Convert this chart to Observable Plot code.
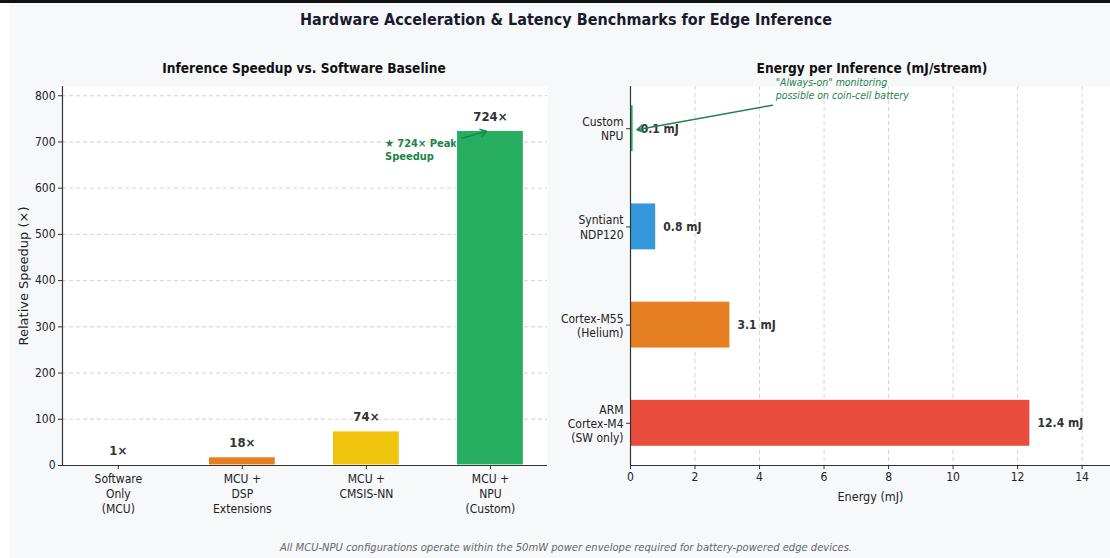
<!DOCTYPE html>
<html>
<head>
<meta charset="utf-8">
<script src="https://cdn.jsdelivr.net/npm/d3@7"></script>
<script src="https://cdn.jsdelivr.net/npm/@observablehq/plot@0.6"></script>
<style>
  body { margin:0; background:#fff; }
  #wrap { position:relative; width:1110px; height:558px; overflow:hidden; background:#fff; font-family:"DejaVu Sans Condensed","DejaVu Sans",sans-serif; }
  .abs { position:absolute; }
  .title { font-weight:bold; font-size:16px; color:#1a1a2e; white-space:nowrap; transform:translateX(-50%); }
  .sub { font-weight:bold; font-size:13.6px; color:#111; white-space:nowrap; transform:translateX(-50%); }
  .cap { font-style:italic; font-size:11.1px; color:#666; white-space:nowrap; transform:translateX(-50%); }
</style>
</head>
<body>
<div id="wrap">
  <div class="abs" style="left:0;top:0;width:1110px;height:3px;background:#111"></div>
  <div class="abs" style="left:10px;top:3px;width:1100px;height:555px;background:#f7f8fa"></div>
  <div class="abs title" style="left:566px;top:10px">Hardware Acceleration &amp; Latency Benchmarks for Edge Inference</div>
  <div class="abs sub" style="left:304px;top:60px">Inference Speedup vs. Software Baseline</div>
  <div class="abs sub" style="left:872px;top:60px">Energy per Inference (mJ/stream)</div>
  <div class="abs" id="left" style="left:0;top:50px"></div>
  <div class="abs" id="right" style="left:560px;top:50px"></div>
  <div class="abs cap" style="left:566px;top:541px">All MCU-NPU configurations operate within the 50mW power envelope required for battery-powered edge devices.</div>
</div>
<script>
// ---- Left chart data ----
const speedCats = ["Software\nOnly\n(MCU)", "MCU +\nDSP\nExtensions", "MCU +\nCMSIS-NN", "MCU +\nNPU\n(Custom)"];
const speedVals = [1, 18, 74, 724];
const speedColors = ["#95a5a6", "#e67e22", "#f1c40f", "#27ae60"];
const speedTicks = [0, 100, 200, 300, 400, 500, 600, 700, 800];
const peakNote = [{x: 2.15, y: 684, text: "★ 724× Peak\nSpeedup"}];
const peakArrow = [{x1: 2.77, y1: 708, x2: 2.97, y2: 723}];

// ---- Right chart data ----
const energyCats = ["ARM\nCortex-M4\n(SW only)", "Cortex-M55\n(Helium)", "Syntiant\nNDP120", "Custom\nNPU"];
const energyVals = [12.4, 3.1, 0.8, 0.1];
const energyColors = ["#e74c3c", "#e67e22", "#3498db", "#27ae60"];
const energyTicks = [0, 2, 4, 6, 8, 10, 12, 14];
const alwaysNote = [{x: 4.5, y: 3.41, text: "\"Always-on\" monitoring\npossible on coin-cell battery"}];
const alwaysArrow = [{x1: 4.4, y1: 3.24, x2: 0.2, y2: 2.99}];

const font = "'DejaVu Sans Condensed','DejaVu Sans',sans-serif";
const grid = {stroke: "#c8c8c8", strokeOpacity: 1, strokeWidth: 0.8, strokeDasharray: "4,3"};
const spine = "#333";

const speedData = speedCats.map((c, i) => ({i, c, v: speedVals[i], col: speedColors[i]}));
const energyData = energyCats.map((c, i) => ({i, c, v: energyVals[i], col: energyColors[i]}));

const left = Plot.plot({
  width: 555, height: 480,
  marginLeft: 62, marginRight: 8, marginTop: 36, marginBottom: 65,
  style: {background: "transparent", fontFamily: font, color: "#222"},
  x: {type: "linear", domain: [-0.45, 3.46], axis: null},
  y: {domain: [0, 820], axis: null},
  color: {type: "identity"},
  marks: [
    Plot.frame({fill: "white", stroke: null}),
    Plot.gridY(speedTicks.slice(1), grid),
    Plot.text(peakNote, {x: "x", y: "y", text: "text", textAnchor: "start", lineAnchor: "middle", fontSize: 11, fontWeight: "bold", fill: "#1e8449", lineHeight: 1.15}),
    Plot.rectY(speedData, {x1: d => d.i - 0.27, x2: d => d.i + 0.27, y1: 0, y2: "v", fill: "col", stroke: "white", strokeWidth: 1.2}),
    Plot.text(speedData, {x: "i", y: "v", text: d => `${d.v}×`, dy: -14, fontSize: 13, fontWeight: "bold", fill: "#333"}),
    Plot.arrow(peakArrow, {x1: "x1", y1: "y1", x2: "x2", y2: "y2", stroke: "#1e8449", strokeWidth: 1.5, headLength: 7}),
    Plot.ruleX([-0.45], {stroke: spine, strokeWidth: 1.2}),
    Plot.ruleY([0], {stroke: spine, strokeWidth: 1.2}),
    Plot.axisY({ticks: speedTicks, tickSize: 4, tickPadding: 3, fontSize: 12, stroke: spine, fill: "#222",
      label: "Relative Speedup (×)", labelAnchor: "center", labelArrow: "none", labelOffset: 44}),
    Plot.axisX({ticks: [0, 1, 2, 3], tickFormat: i => speedCats[i], tickSize: 4, tickPadding: 3, fontSize: 12, lineHeight: 1.25, stroke: spine, fill: "#222", label: null})
  ]
});
// enlarge the rotated y label (regular width, like the reference)
left.querySelectorAll("g[aria-label='y-axis label'] text").forEach(t => {
  t.style.fontSize = "13px"; t.style.fontFamily = "'DejaVu Sans',sans-serif";
});
document.getElementById("left").appendChild(left);

const right = Plot.plot({
  width: 550, height: 480,
  marginLeft: 70, marginRight: 0, marginTop: 36, marginBottom: 65,
  style: {background: "transparent", fontFamily: font, color: "#222", overflow: "visible"},
  x: {domain: [0, 14.88], axis: null},
  y: {domain: [-0.43, 3.43], axis: null},
  color: {type: "identity"},
  marks: [
    Plot.frame({fill: "white", stroke: null}),
    Plot.gridX(energyTicks.slice(1), grid),
    Plot.rectX(energyData, {x1: 0, x2: "v", y1: d => d.i - 0.24, y2: d => d.i + 0.24, fill: "col", stroke: "white", strokeWidth: 1.2}),
    Plot.text(energyData, {x: "v", y: "i", text: d => `${d.v} mJ`, dx: 7, textAnchor: "start", fontSize: 12, fontWeight: "bold", fill: "#333"}),
    Plot.text(alwaysNote, {x: "x", y: "y", text: "text", textAnchor: "start", lineAnchor: "middle", fontSize: 10.5, fontStyle: "italic", fill: "#1e8449", lineHeight: 1.2}),
    Plot.arrow(alwaysArrow, {x1: "x1", y1: "y1", x2: "x2", y2: "y2", stroke: "#1e8449", strokeWidth: 1.5, headLength: 7}),
    Plot.ruleX([0], {stroke: spine, strokeWidth: 1.2}),
    Plot.ruleY([-0.43], {stroke: spine, strokeWidth: 1.2}),
    Plot.axisY({ticks: [0, 1, 2, 3], tickFormat: i => energyCats[i], tickSize: 4, tickPadding: 3, fontSize: 12, lineHeight: 1.18, stroke: spine, fill: "#222", label: null}),
    Plot.axisX({ticks: energyTicks, tickSize: 4, tickPadding: 3, fontSize: 12, stroke: spine, fill: "#222",
      label: "Energy (mJ)", labelAnchor: "center", labelArrow: "none", labelOffset: 35})
  ]
});
right.querySelectorAll("g[aria-label='x-axis label'] text").forEach(t => { t.style.fontSize = "12.5px"; });
document.getElementById("right").appendChild(right);
</script>
</body>
</html>
